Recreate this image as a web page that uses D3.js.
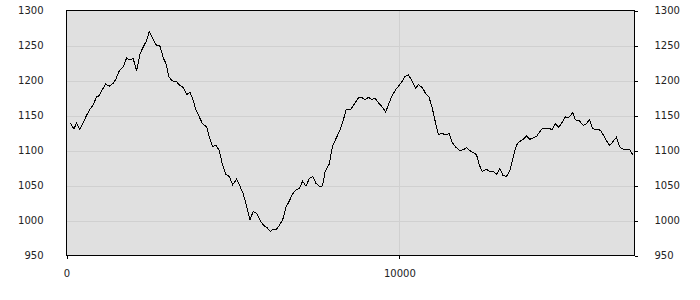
<!DOCTYPE html>
<html>
<head>
<meta charset="utf-8">
<script src="https://cdn.jsdelivr.net/npm/d3@7"></script>
<style>
html,body{margin:0;padding:0;background:#fff;}
svg{display:block;}
text{font-family:"DejaVu Sans",Verdana,sans-serif;font-size:10px;fill:#222;}
</style>
</head>
<body>
<svg id="chart" width="700" height="300"></svg>
<script>
const xValues = [102,223,301,403,502,602,704,803,902,975,1053,1173,1284,1405,1474,1576,1706,1805,1886,2006,2106,2208,2307,2406,2488,2587,2689,2809,2909,2990,3070,3142,3200,3290,3410,3509,3608,3710,3788,3891,3990,4089,4209,4290,4390,4491,4590,4689,4791,4890,4990,5110,5212,5311,5410,5512,5611,5710,5845,5945,6026,6125,6194,6296,6395,6494,6596,6695,6794,6896,6995,7094,7196,7295,7394,7496,7616,7694,7767,7896,7995,8127,8227,8326,8398,8548,8668,8768,8870,8969,9068,9170,9270,9390,9490,9592,9691,9790,9893,9992,10091,10172,10271,10374,10494,10572,10692,10794,10893,10992,11094,11172,11275,11395,11495,11585,11687,11816,11916,12018,12117,12216,12319,12397,12487,12620,12719,12818,12920,13019,13118,13220,13319,13418,13520,13619,13718,13820,13919,14018,14120,14219,14318,14457,14589,14688,14787,14890,14989,15088,15208,15290,15419,15521,15620,15711,15810,15942,16041,16140,16221,16320,16423,16522,16621,16723,16822,16921,17023];
const yValues = [1140,1131,1139,1130,1140,1150,1159,1165,1177,1178,1185,1195,1192,1196,1201,1213,1220,1232,1230,1231,1214,1238,1248,1257,1270,1261,1251,1249,1232,1224,1206,1201,1199,1199,1193,1190,1180,1183,1174,1158,1148,1138,1134,1119,1106,1107,1100,1079,1066,1063,1051,1059,1049,1038,1021,1001,1013,1010,998,992,990,984,987,987,993,1001,1019,1028,1038,1044,1046,1056,1049,1060,1063,1053,1048,1050,1069,1081,1107,1120,1130,1145,1158,1159,1168,1175,1176,1172,1176,1173,1175,1167,1162,1155,1168,1179,1187,1193,1199,1206,1208,1200,1189,1194,1190,1181,1176,1160,1138,1123,1124,1123,1124,1112,1105,1100,1101,1104,1100,1097,1094,1080,1070,1073,1070,1070,1066,1074,1064,1063,1071,1090,1108,1113,1116,1121,1116,1118,1120,1127,1132,1132,1130,1138,1133,1140,1148,1147,1154,1144,1142,1136,1138,1144,1131,1130,1129,1121,1114,1107,1113,1119,1105,1102,1102,1101,1093];
const yTicks = [950,1000,1050,1100,1150,1200,1250,1300];
const xTicks = [0,10000];
const xDomain = [0,17050];
const yDomain = [950,1300];

const svg = d3.select("#chart");
const L = 66.5, R = 634.5, T = 10.5, B = 255.5;

const x = d3.scaleLinear().domain(xDomain).range([L, R - 0.5]);
const y = d3.scaleLinear().domain(yDomain).range([B, T]);

// background
svg.append("rect").attr("x", L).attr("y", T).attr("width", R - L).attr("height", B - T).attr("fill", "#e0e0e0");

// grid
const grid = svg.append("g").attr("shape-rendering", "crispEdges");
grid.selectAll("line.h").data(yTicks.filter(d => d > yDomain[0] && d < yDomain[1])).join("line")
  .attr("x1", L).attr("x2", R).attr("y1", d => Math.round(y(d)) + 0.5).attr("y2", d => Math.round(y(d)) + 0.5)
  .attr("stroke", "#d0d0d0");
grid.selectAll("line.v").data(xTicks.filter(d => d > xDomain[0])).join("line")
  .attr("y1", T).attr("y2", B).attr("x1", d => Math.round(x(d)) + 0.5).attr("x2", d => Math.round(x(d)) + 0.5)
  .attr("stroke", "#d0d0d0");

// line
const pts = xValues.map((v, i) => [v, yValues[i]]);
svg.append("path").datum(pts)
  .attr("d", d3.line().x(d => x(d[0])).y(d => y(d[1])))
  .attr("fill", "none").attr("stroke", "#000").attr("stroke-width", 1)
  .attr("shape-rendering", "crispEdges");

// frame
svg.append("rect").attr("x", L).attr("y", T).attr("width", R - L).attr("height", B - T)
  .attr("fill", "none").attr("stroke", "#000").attr("shape-rendering", "crispEdges");

// axes
const fmt = d3.format("d");
const leftAxis = svg.append("g").attr("transform", `translate(${L},0)`)
  .call(d3.axisLeft(y).tickValues(yTicks).tickSize(0).tickPadding(23).tickFormat(fmt));
const rightAxis = svg.append("g").attr("transform", `translate(${R},0)`)
  .call(d3.axisRight(y).tickValues(yTicks).tickSize(3).tickPadding(17).tickFormat(fmt));
const bottomAxis = svg.append("g").attr("transform", `translate(0,${B})`)
  .call(d3.axisBottom(x).tickValues(xTicks).tickSize(3).tickPadding(11).tickFormat(fmt));

[leftAxis, rightAxis, bottomAxis].forEach(g => {
  g.select(".domain").remove();
  g.selectAll(".tick line").attr("stroke", "#000").attr("shape-rendering", "crispEdges");
  g.selectAll("text").attr("font-family", "DejaVu Sans, Verdana, sans-serif").attr("font-size", 10).attr("fill", "#222");
});
</script>
</body>
</html>
